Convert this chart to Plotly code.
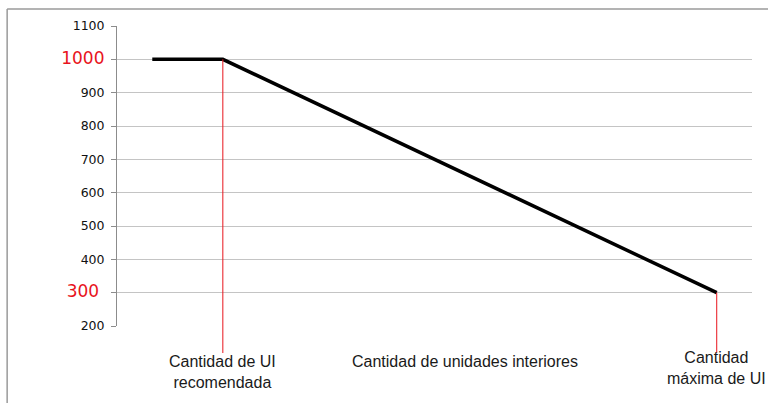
import plotly.graph_objects as go

# Capacity curve versus number of indoor units
units = [1, 3, 17]
capacity = [1000, 1000, 300]

y_ticks = [200, 300, 400, 500, 600, 700, 800, 900, 1000, 1100]
highlight = {1000: (17, ""), 300: (17, "&nbsp;")}
y_min, y_max = 200, 1100
x_min, x_max = 0, 18

tick_text = []
for v in y_ticks:
    if v in highlight:
        size, pad = highlight[v]
        tick_text.append(
            f"<span style='color:#e8141c;font-size:{size}px'>{v}{pad}</span>"
        )
    else:
        tick_text.append(str(v))

fig = go.Figure()
fig.add_trace(go.Scatter(
    x=units, y=capacity, mode="lines",
    line=dict(color="black", width=3.5),
    hoverinfo="skip", showlegend=False,
))


def to_paper(v):
    return (v - y_min) / (y_max - y_min)


shapes = []
# red drop lines from the knee and the end point
for xi, yi in [(units[1], capacity[1]), (units[2], capacity[2])]:
    shapes.append(dict(
        type="line", xref="x", yref="paper",
        x0=xi, x1=xi, y0=to_paper(yi), y1=-0.09,
        line=dict(color="#e8141c", width=1),
    ))
# frame around the chart
shapes.append(dict(type="line", xref="paper", yref="paper",
                   x0=-0.173, x1=-0.173, y0=1.057, y1=-0.3,
                   line=dict(color="#9a9a9a", width=1.5)))
shapes.append(dict(type="line", xref="paper", yref="paper",
                   x0=-0.173, x1=1.05, y0=1.057, y1=1.057,
                   line=dict(color="#9a9a9a", width=1.5)))

label_font = dict(family="Liberation Sans, Arial", size=16, color="#1a1a1a")
annotations = [
    dict(x=units[1], y=-0.083, xref="x", yref="paper",
         text="Cantidad de UI<br>recomendada", showarrow=False,
         xanchor="center", yanchor="top", font=label_font),
    dict(x=9.86, y=-0.083, xref="x", yref="paper",
         text="Cantidad de unidades interiores", showarrow=False,
         xanchor="center", yanchor="top", font=label_font),
    dict(x=units[2], y=-0.07, xref="x", yref="paper",
         text="Cantidad<br>máxima de UI", showarrow=False,
         xanchor="center", yanchor="top", font=label_font),
]

fig.update_layout(
    width=768, height=403,
    margin=dict(l=117, r=16, t=26, b=77),
    paper_bgcolor="white", plot_bgcolor="white",
    shapes=shapes, annotations=annotations,
    xaxis=dict(range=[x_min, x_max], showgrid=False, zeroline=False,
               showline=False, showticklabels=False, ticks=""),
    yaxis=dict(range=[y_min, y_max], tickvals=y_ticks, ticktext=tick_text,
               showgrid=True, gridcolor="#c4c4c4", gridwidth=1,
               zeroline=False, showline=True, linecolor="#8c8c8c",
               linewidth=1, ticks="outside", ticklen=5, tickcolor="#8c8c8c",
               tickfont=dict(family="DejaVu Sans, Verdana", size=12.5,
                             color="#111111"),
               ticklabelstandoff=4),
)

fig.write_html("out.html")
